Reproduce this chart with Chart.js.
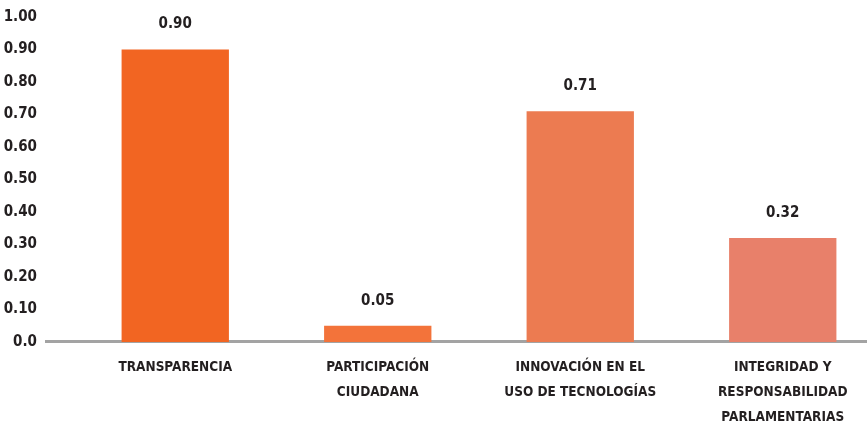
<!DOCTYPE html>
<html>
<head>
<meta charset="utf-8">
<script src="https://cdn.jsdelivr.net/npm/chart.js@4.4.1/dist/chart.umd.min.js"></script>
<style>
  html, body { margin: 0; padding: 0; background: #fff; overflow: hidden; }
  #wrap { width: 867px; height: 425px; overflow: hidden; }
</style>
</head>
<body>
<div id="wrap"><canvas id="chart" width="884" height="425"></canvas></div>
<script>
const categories = [
    'TRANSPARENCIA',
    ['PARTICIPACIÓN', 'CIUDADANA'],
    ['INNOVACIÓN EN EL', 'USO DE TECNOLOGÍAS'],
    ['INTEGRIDAD Y', 'RESPONSABILIDAD', 'PARLAMENTARIAS']
];
const scores = [0.90, 0.05, 0.71, 0.32];
const barColors = ['#f26522', '#f3733a', '#ec7b51', '#e8806a'];
const yTickLabels = ['0.0', '0.10', '0.20', '0.30', '0.40', '0.50', '0.60', '0.70', '0.80', '0.90', '1.00'];

const FONT = "'DejaVu Sans Condensed', 'Liberation Sans Narrow', sans-serif";
const TEXT = '#231f20';

// linea base gris bajo las barras
const baseLine = {
    id: 'baseLine',
    beforeDatasetsDraw(chart) {
        const { ctx, chartArea, scales } = chart;
        const y = scales.y.getPixelForValue(0);
        ctx.save();
        ctx.strokeStyle = '#a3a3a3';
        ctx.lineWidth = 3;
        ctx.beginPath();
        ctx.moveTo(chartArea.left - 29, y - 0.5);
        ctx.lineTo(chart.width, y - 0.5);
        ctx.stroke();
        ctx.restore();
    }
};

// etiquetas de valor sobre cada barra
const valueLabels = {
    id: 'valueLabels',
    afterDatasetsDraw(chart) {
        const { ctx } = chart;
        const meta = chart.getDatasetMeta(0);
        ctx.save();
        ctx.font = 'bold 15px ' + FONT;
        ctx.fillStyle = TEXT;
        ctx.textAlign = 'center';
        ctx.textBaseline = 'middle';
        meta.data.forEach((bar, i) => {
            ctx.fillText(scores[i].toFixed(2), bar.x, bar.y - 25);
        });
        ctx.restore();
    }
};

new Chart(document.getElementById('chart'), {
    type: 'bar',
    data: {
        labels: categories,
        datasets: [{
            data: scores,
            backgroundColor: barColors,
            borderWidth: 0,
            categoryPercentage: 1,
            barPercentage: 0.53
        }]
    },
    options: {
        responsive: false,
        animation: false,
        layout: { padding: 0 },
        plugins: {
            legend: { display: false },
            tooltip: { enabled: false }
        },
        scales: {
            x: {
                grid: { display: false, drawTicks: false },
                border: { display: false },
                afterFit(scale) {
                    scale.height = 83;
                    scale.paddingTop = 0;
                    scale.paddingBottom = 0;
                },
                ticks: {
                    color: TEXT,
                    padding: 13,
                    maxRotation: 0,
                    autoSkip: false,
                    font: { family: FONT, size: 13.5, weight: 'bold', lineHeight: 1.85 }
                }
            },
            y: {
                min: 0,
                max: 1,
                grid: { display: false, drawTicks: false },
                border: { display: false },
                afterFit(scale) {
                    scale.width = 74;
                    scale.paddingTop = 17;
                    scale.paddingBottom = 0;
                },
                ticks: {
                    stepSize: 0.1,
                    color: TEXT,
                    padding: 37,
                    font: { family: FONT, size: 15, weight: 'bold' },
                    callback: (v, i) => yTickLabels[i]
                }
            }
        }
    },
    plugins: [baseLine, valueLabels]
});
</script>
</body>
</html>
